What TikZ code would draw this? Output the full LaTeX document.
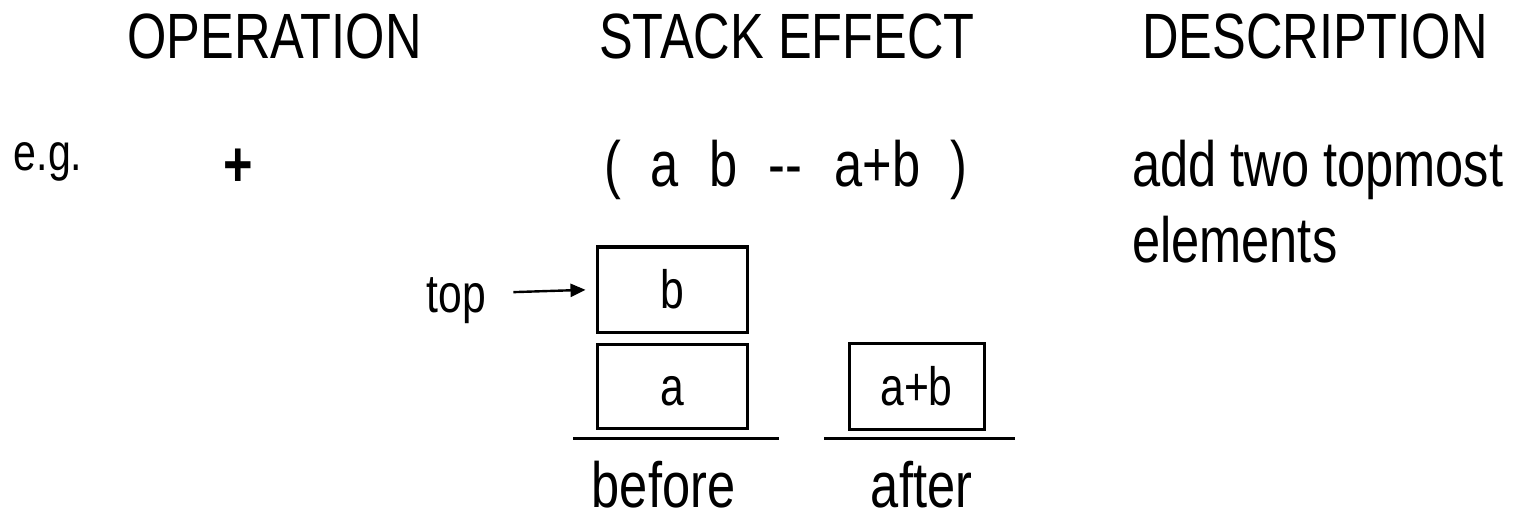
\documentclass[tikz,border=0pt]{standalone}
\usepackage{fontspec}
\setmainfont{Liberation Sans}[FakeStretch=0.79]
\usetikzlibrary{arrows.meta}
\begin{document}
\begin{tikzpicture}[x=1pt,y=-1pt,
  big/.style={inner sep=0pt, font=\fontsize{64}{75}\selectfont, anchor=base},
  small/.style={inner sep=0pt, font=\fontsize{52}{60}\selectfont, anchor=base},
  cell/.style={draw, line width=3pt, inner sep=0pt, font=\fontsize{54}{60}\selectfont,
    text height=46pt, text depth=8pt},
  baseline/.style={line width=3pt},
  pointer/.style={line width=2.4pt, -{Triangle[length=15pt,width=13pt]}}]
\useasboundingbox (0,0) rectangle (1534,513);
% headers
\node[big] (hop) at (274.5,59) {OPERATION};
\node[big] (hse) at (787,59) {STACK EFFECT};
\node[big] (hde) at (1315,59) {DESCRIPTION};
% example row
\node[small] (eg) at (48,171) {e.g.};
\node[big, font=\fontsize{64}{75}\selectfont\bfseries] (plus) at (238,187) {+};
\node[big] (se1) at (613,187) {(};
\node[big] (se2) at (664.5,187) {a};
\node[big] (se3) at (723.5,187) {b};
\node[big] (se4) at (785,187) {\mbox{-}\mbox{-}};
\node[big] (se5) at (877.5,187) {a+b};
\node[big] (se6) at (958.5,187) {)};
\node[big, anchor=base west] (d1) at (1132,187) {add two topmost};
\node[big, anchor=base west] (d2) at (1132,262) {elements};
% stacks
\node[cell, minimum width=150pt, minimum height=85pt] (bbox) at (672,289.5) {b};
\node[cell, minimum width=150pt, minimum height=84pt] (abox) at (672,386) {a};
\node[cell, minimum width=135pt, minimum height=86pt] (rbox) at (916.5,386) {a+b};
\coordinate (bl1) at (573,438);
\coordinate (bl2) at (779,438);
\coordinate (al1) at (824,438);
\coordinate (al2) at (1015,438);
\draw[baseline] (bl1) -- (bl2);
\draw[baseline] (al1) -- (al2);
\node[big] (before) at (663.5,507) {before};
\node[big] (after) at (921.5,507) {after};
% top pointer
\node[inner sep=0pt, font=\fontsize{54}{60}\selectfont, text height=46pt, text depth=8pt] (top) at (456.5,293) {top};
\draw[pointer, shorten <=27pt, shorten >=10pt] (top.east) -- (bbox.west);
\end{tikzpicture}
\end{document}
